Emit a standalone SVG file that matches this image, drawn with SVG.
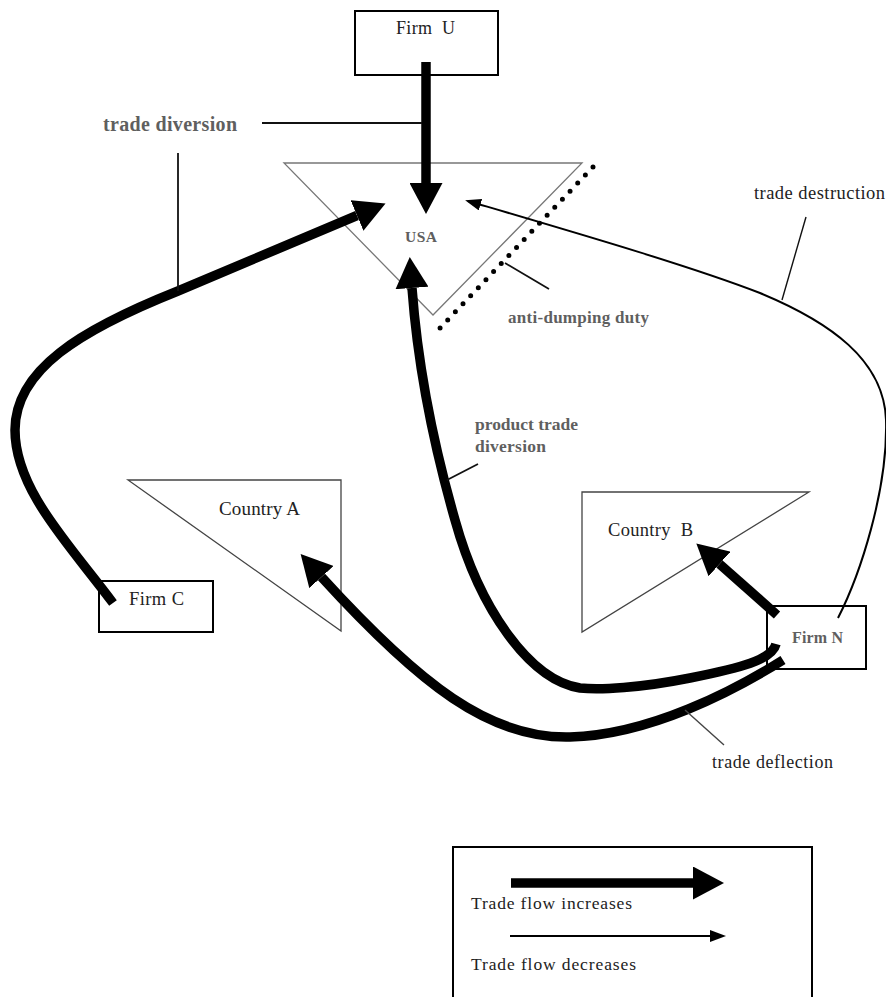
<svg xmlns="http://www.w3.org/2000/svg" width="886" height="997" viewBox="0 0 886 997">
<style>
  .box { fill: #fff; stroke: #000; stroke-width: 2; }
  .tri { fill: none; stroke: #444; stroke-width: 1.3; }
  .thick { fill: none; stroke: #000; stroke-width: 9.5; stroke-linecap: butt; }
  .thin { fill: none; stroke: #000; stroke-width: 2; }
  .lead { fill: none; stroke: #111; stroke-width: 1.8; }
  .lbl { font-family: "Liberation Serif", "Times New Roman", serif; fill: #222; }
  .glbl { font-family: "Liberation Serif", "Times New Roman", serif; font-weight: bold; fill: #5f5f5f; }
</style>
<defs>
  <marker id="bigHead" markerUnits="userSpaceOnUse" markerWidth="31" markerHeight="33" viewBox="0 0 31 33" refX="0" refY="16.5" orient="auto">
    <path d="M0,0 L31,16.5 L0,33 Z" fill="#000"/>
  </marker>
  <marker id="thinHead" markerUnits="userSpaceOnUse" markerWidth="16" markerHeight="12" viewBox="0 0 16 12" refX="13" refY="6" orient="auto">
    <path d="M0,0 L16,6 L0,12 Z" fill="#000"/>
  </marker>
</defs>

<g id="usa">
  <polygon class="tri" points="284,163 582,163 433,315" style="stroke:#777"/>
  <text class="glbl" x="405" y="242" font-size="15.5" textLength="32">USA</text>
</g>
<g id="anti-dumping">
  <line x1="593" y1="167" x2="440" y2="328" stroke="#000" stroke-width="5" stroke-linecap="round" stroke-dasharray="0 11.1"/>
</g>
<g id="country-a">
  <polygon class="tri" points="128,480 341,480 341,631"/>
  <text class="lbl" x="219" y="515" font-size="19" textLength="81">Country A</text>
</g>
<g id="country-b">
  <polygon class="tri" points="582,492 809,492 582,632"/>
  <text class="lbl" x="608" y="536" font-size="18.5" textLength="85" style="white-space:pre">Country  B</text>
</g>
<g id="firm-u">
  <rect class="box" x="355" y="11" width="143" height="64"/>
  <text class="lbl" x="396" y="34" font-size="18" textLength="59" style="white-space:pre">Firm  U</text>
</g>
<g id="firm-c">
  <rect class="box" x="99" y="581" width="114" height="51"/>
  <text class="lbl" x="129" y="605" font-size="18.5" textLength="55">Firm C</text>
</g>
<g id="firm-n">
  <rect class="box" x="767" y="606" width="99" height="63"/>
  <text class="glbl" x="792" y="643" font-size="16" textLength="51">Firm N</text>
</g>

<g id="connectors">
  <path class="thick" d="M426,62 L426,183" marker-end="url(#bigHead)"/>
  <path class="thick" d="M113,603 C70,545 15,490 15,430 C15,370 80,330 178,291 L357,215.5" marker-end="url(#bigHead)"/>
  <path class="thick" d="M776,644 C772,660 740,668 690,678 C640,688 600,690 580,688 C530,680 480,610 455,520 C435,450 418,370 412,288" marker-end="url(#bigHead)"/>
  <path class="thick" d="M783,660 C735,690 650,735 570,737 C490,739 420,685 321.5,577" marker-end="url(#bigHead)"/>
  <path class="thick" d="M777,615 L719.5,564" marker-end="url(#bigHead)"/>
  <path class="thin" d="M838,618 C860,575 888,490 886,420 C884,360 830,322 760,293 C690,266 580,234 468,201" marker-end="url(#thinHead)"/>
</g>

<g id="labels">
  <text class="glbl" x="103" y="131" font-size="20" textLength="134">trade diversion</text>
  <line class="lead" x1="262" y1="123" x2="422" y2="123"/>
  <line class="lead" x1="178" y1="153" x2="178" y2="291"/>
  <text class="glbl" x="508" y="323" font-size="17" textLength="141">anti-dumping duty</text>
  <line class="lead" x1="505" y1="263" x2="549" y2="289"/>
  <text class="lbl" x="754" y="199" font-size="18.5" textLength="131">trade destruction</text>
  <line class="lead" x1="806" y1="217" x2="782" y2="300" style="stroke-width:1.4"/>
  <text class="glbl" x="475" y="430" font-size="17.5" textLength="103">product trade</text>
  <text class="glbl" x="475" y="452" font-size="17.5" textLength="71">diversion</text>
  <line class="lead" x1="447" y1="480" x2="478" y2="464"/>
  <text class="lbl" x="712" y="768" font-size="18" textLength="121">trade deflection</text>
  <line class="lead" x1="685" y1="710" x2="724" y2="745" style="stroke:#444;stroke-width:1.4"/>
</g>

<g id="legend">
  <rect x="453" y="847" width="359" height="160" fill="none" stroke="#000" stroke-width="2"/>
  <path class="thick" d="M511,883 L693,883" marker-end="url(#bigHead)"/>
  <text class="lbl" x="471" y="909" font-size="17.5" textLength="161">Trade flow increases</text>
  <path class="thin" d="M510,936 L723,936" marker-end="url(#thinHead)"/>
  <text class="lbl" x="471" y="970" font-size="17.5" textLength="165">Trade flow decreases</text>
</g>
</svg>
